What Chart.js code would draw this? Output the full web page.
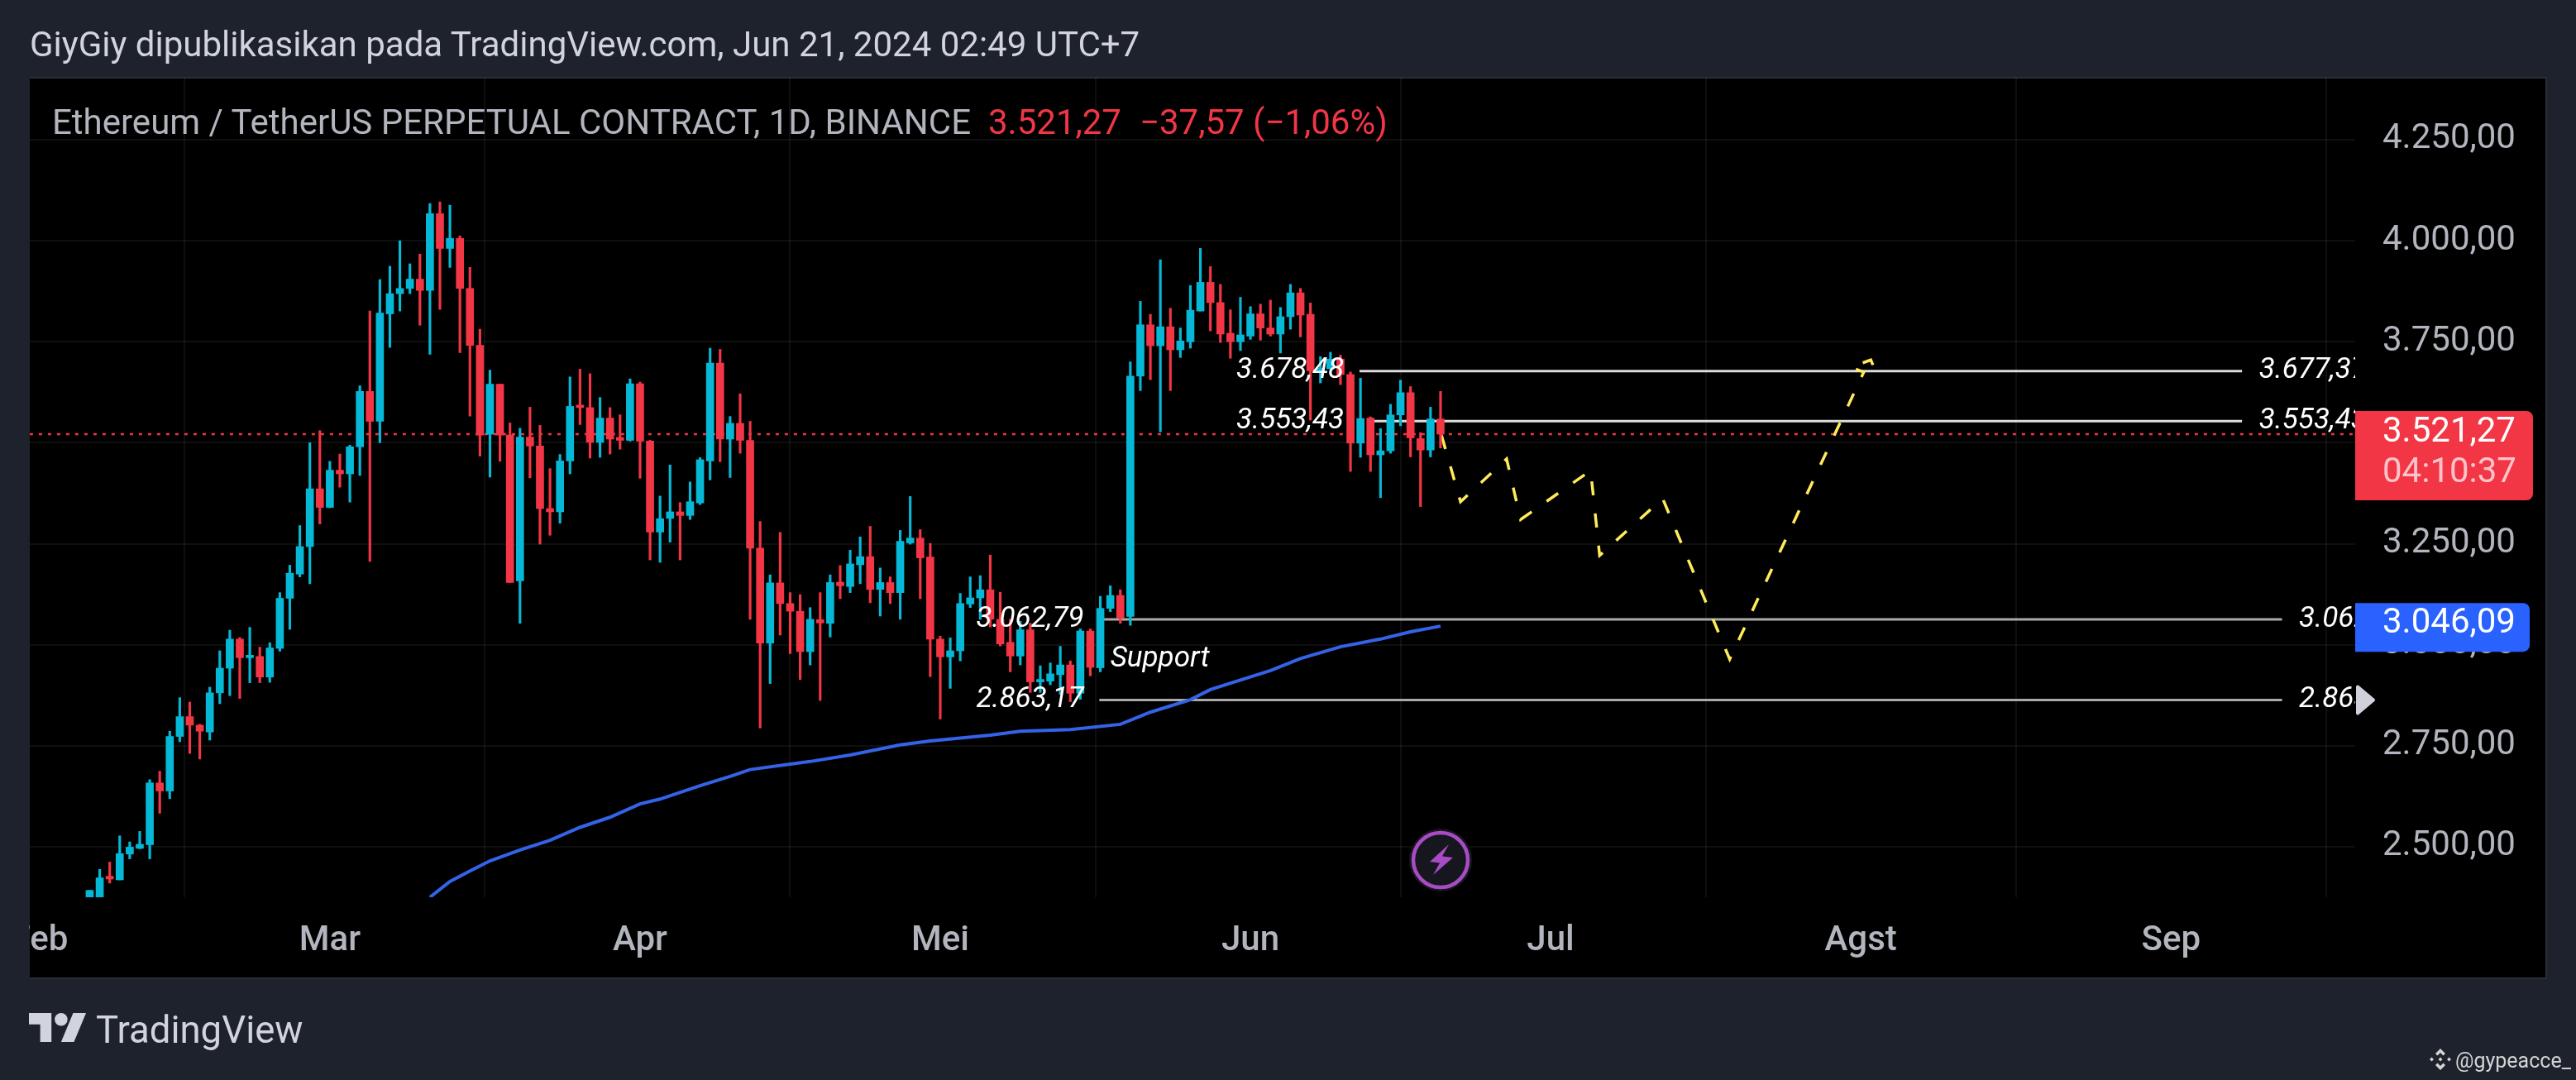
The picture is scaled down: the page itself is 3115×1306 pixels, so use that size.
<!DOCTYPE html>
<html>
<head>
<meta charset="utf-8">
<title>ETHUSDT.P 1D</title>
<script src="https://cdn.jsdelivr.net/npm/chart.js@4/dist/chart.umd.min.js"></script>
<style>
    html, body { margin: 0; padding: 0; background: #1e222d; }
    body { position: relative; width: 3115px; height: 1306px; overflow: hidden; font-family: Roboto, sans-serif; }
    canvas { position: absolute; left: 0; top: 0; }
    .txt { position: absolute; white-space: pre; line-height: 1; }
    svg { position: absolute; }
</style>
</head>
<body>
<canvas id="ethChart" width="3115" height="1306"></canvas>

<div class="txt" style="left:36px;top:33px;font-size:42px;color:#d1d4dc">GiyGiy dipublikasikan pada TradingView.com, Jun 21, 2024 02:49 UTC+7</div>
<div class="txt" style="left:63px;top:127px;font-size:42px;color:#b2b5be">Ethereum / TetherUS PERPETUAL CONTRACT, 1D, BINANCE</div>
<div class="txt" style="left:1195px;top:127px;font-size:42px;color:#f23645">3.521,27</div>
<div class="txt" style="left:1378px;top:127px;font-size:42px;color:#f23645">−37,57</div>
<div class="txt" style="left:1515px;top:127px;font-size:42px;color:#f23645">(−1,06%)</div>

<svg style="left:35px;top:1217px" width="70" height="55" viewBox="0 0 36 28" fill="#d1d4dc">
    <path d="M14 22H7V11H0V4h14v18zM28 22h-8l7.5-18h8L28 22z"/><circle cx="20" cy="8" r="4"/>
</svg>
<div class="txt" style="left:116px;top:1223px;font-size:45.500px;color:#d1d4dc">TradingView</div>

<svg style="left:2937px;top:1268px" width="28" height="28" viewBox="0 0 28 28" fill="#d4d4d4">
    <path d="M14 0l6 6-2.500 2.500L14 5 10.500 8.500 8 6zM3.500 10.500L6 13l-2.500 2.500L1 13zM24.500 10.500L27 13l-2.500 2.500L22 13zM14 10.500l2.500 2.500-2.500 2.500-2.500-2.500zM8 20l2.500-2.500L14 21l3.500-3.500L20 20l-6 6z"/>
</svg>
<div class="txt" style="left:2969px;top:1270px;font-size:25px;color:#d4d4d4">@gypeacce_</div>

<svg style="left:1702px;top:1000px" width="80" height="80" viewBox="0 0 80 80">
    <circle cx="40" cy="40" r="38" fill="#16161f"/>
    <circle cx="40" cy="40" r="33" fill="none" stroke="#a94bc4" stroke-width="4.500"/>
    <path d="M50 21L27 42l12 1.500L31 58l24-21-13-1.500z" fill="#a94bc4"/>
</svg>

<script>
    // daily candles, first one is day 5 (day 0 = 1 Feb 2024)
    const firstDay = 5;
    const opens = [2360,2360,2427,2418,2482,2496,2505,2658,2638,2773,2822,2801,2784,2881,2942,3014,2968,2971,2920,2991,
        3115,3175,3243,3386,3340,3432,3423,3490,3627,3553,3819,3869,3882,3905,3877,4067,3981,4006,3882,3741,
        3521,3645,3519,3158,3514,3492,3337,3329,3455,3592,3587,3501,3561,3513,3506,3646,3504,3279,3313,3329,
        3320,3351,3455,3697,3509,3548,3506,3239,3004,3153,3102,3083,2983,3062,3053,3155,3144,3198,3218,3137,
        3154,3129,3252,3264,3217,3014,2970,2985,3101,3116,3136,3063,3006,2972,3037,2908,2910,2926,2950,2880,
        3034,2943,3090,3122,3070,3665,3792,3740,3787,3730,3750,3826,3897,3847,3771,3750,3764,3819,3784,3769,
        3812,3871,3818,3678,3683,3707,3669,3499,3561,3470,3480,3569,3624,3510,3482,3558.84];
    const highs = [2392,2444,2462,2527,2512,2538,2666,2687,2786,2869,2858,2803,2895,2985,3036,3018,3043,2994,3005,3129,
        3197,3295,3500,3530,3454,3472,3494,3641,3826,3904,3937,4000,3943,3967,4092,4096,4088,4012,3934,3781,
        3680,3645,3549,3536,3588,3543,3436,3471,3663,3682,3671,3612,3587,3569,3658,3650,3506,3368,3445,3352,
        3403,3463,3734,3731,3565,3621,3553,3305,3173,3278,3129,3124,3092,3129,3173,3196,3234,3267,3293,3190,
        3168,3283,3367,3285,3251,3021,3017,3127,3168,3171,3222,3130,3063,3058,3053,2948,2955,2996,2960,3039,
        3039,3120,3146,3136,3700,3850,3818,3953,3833,3784,3889,3981,3936,3892,3829,3860,3837,3843,3853,3835,
        3892,3882,3846,3713,3724,3717,3675,3660,3564,3535,3595,3655,3639,3525,3588,3627];
    const lows = [2350,2350,2410,2418,2470,2495,2470,2583,2619,2760,2731,2717,2764,2854,2874,2867,2906,2906,2907,2984,
        3038,3168,3151,3299,3339,3390,3353,3419,3206,3500,3736,3826,3869,3791,3719,3830,3934,3723,3566,3467,
        3415,3454,3154,3053,3413,3249,3271,3301,3423,3545,3462,3464,3472,3484,3504,3412,3210,3204,3254,3210,
        3310,3347,3408,3453,3414,3474,3063,2794,2904,3024,2978,2914,2950,2862,3019,3114,3129,3151,3104,3071,
        3102,3063,3249,3114,2921,2816,2892,2960,3092,3063,3044,2997,2933,2950,2882,2882,2901,2877,2859,2865,
        2923,2933,3082,3053,3048,3629,3656,3527,3629,3711,3734,3826,3777,3748,3709,3728,3756,3754,3764,3722,
        3781,3762,3556,3648,3682,3644,3429,3464,3429,3364,3474,3542,3465,3342,3465,3487];
    const closes = [2392,2423,2420,2483,2499,2506,2658,2638,2773,2822,2801,2786,2881,2942,3014,2968,2972,2920,2992,3115,
        3177,3243,3386,3340,3432,3423,3490,3627,3553,3821,3869,3882,3905,3877,4067,3981,4006,3882,3741,3519,
        3645,3519,3154,3514,3492,3337,3329,3455,3590,3587,3501,3561,3509,3506,3646,3504,3279,3312,3329,3320,
        3354,3458,3697,3509,3548,3506,3239,3004,3153,3102,3083,2983,3063,3054,3154,3146,3200,3218,3137,3154,
        3129,3256,3264,3215,3014,2970,2985,3102,3116,3136,3063,3002,2972,3037,2908,2913,2928,2950,2880,3034,
        2944,3090,3122,3066,3665,3792,3740,3787,3730,3752,3828,3897,3847,3769,3750,3767,3819,3784,3769,3812,
        3871,3816,3678,3683,3707,3669,3499,3560,3470,3480,3569,3624,3512,3482,3559,3521.27];

    // moving average
    const maDays = [39,41,43,45,48,51,54,57,60,62,66,69,71,77,81,86,89,95,98,103,108,111,115,117,123,126,130,134,137,140];
    const maValues = [2375,2414,2440,2465,2492,2516,2548,2573,2606,2618,2651,2674,2691,2711,2727,2752,2762,2776,2786,2790,
        2803,2833,2864,2889,2936,2966,2995,3014,3032,3046.09];

    // yellow dashed forecast
    const forecastDays = [140.1,142,146.6,148,155,155.9,162.2,168.9,182.3,181,183,183.8];
    const forecastValues = [3518,3354,3460,3310,3431,3221,3362,2964,3675,3687,3705,3658];

    // drawn levels
    const levelValues = [3677.37,3553.43,3062.79,2863.17];
    const levelStartDays = [131.9,133.2,106.3,105.9];
    const levelEndDays = [220.1,220.1,224.1,224.1];
    const levelTexts = ['3.677,37','3.553,43','3.062,79','2.863,17'];

    const lastPrice = 3521.27;
    const maLast = 3046.09;
    const yTicks = [2500,2750,3000,3250,3500,3750,4000,4250];
    const yTickLabels = ['2.500,00','2.750,00','3.000,00','3.250,00','3.500,00','3.750,00','4.000,00','4.250,00'];
    const monthDays = [0,29,60,90,121,151,182,213];
    const monthNames = ['Feb','Mar','Apr','Mei','Jun','Jul','Agst','Sep'];

    const UP = '#06b8d6';
    const DOWN = '#f23645';
    const candleDays = opens.map((v, i) => firstDay + i);
    const candleColors = opens.map((v, i) => closes[i] >= v ? UP : DOWN);

    // left/right pieces of text that sit on the pane, in price/time coordinates
    const noteTexts = [
        { text: '3.678,48', day: 119.6, value: 3677.37 },
        { text: '3.553,43', day: 119.6, value: 3553.43 },
        { text: '3.062,79', day: 93.6, value: 3062.79 },
        { text: '2.863,17', day: 93.6, value: 2863.17 },
        { text: 'Support', day: 107, value: 2965 },
        { text: levelTexts[0], day: 221.8, value: 3677.37 },
        { text: levelTexts[1], day: 221.8, value: 3553.43 },
        { text: levelTexts[2], day: 225.8, value: 3062.79 },
        { text: levelTexts[3], day: 225.8, value: 2863.17 }
    ];

    const panePlugin = {
        id: 'pane',
        beforeDraw(chart) {
            const c = chart.ctx;
            c.save();
            c.fillStyle = '#000';
            c.fillRect(36, 94, 3043, 1089);
            c.strokeStyle = '#2a2e39';
            c.lineWidth = 2;
            c.beginPath();
            c.moveTo(36, 94); c.lineTo(3079, 94); c.lineTo(3079, 1183); c.lineTo(36, 1183);
            c.stroke();
            c.restore();
        },
        afterDatasetsDraw(chart) {
            const c = chart.ctx, a = chart.chartArea;
            const x = chart.scales.x, y = chart.scales.y;
            c.save();
            c.beginPath();
            c.rect(a.left, a.top, a.right - a.left, a.bottom - a.top);
            c.clip();
            c.font = 'italic 35px Roboto';
            c.fillStyle = '#fff';
            c.textBaseline = 'middle';
            c.textAlign = 'left';
            noteTexts.forEach(n => c.fillText(n.text, x.getPixelForValue(n.day), y.getPixelForValue(n.value)));
            c.restore();
        },
        afterDraw(chart) {
            const c = chart.ctx, a = chart.chartArea;
            const y = chart.scales.y;
            c.save();
            // cut the Feb label at the pane edge
            c.fillStyle = '#1e222d';
            c.fillRect(0, a.bottom + 2, 35, 96);

            const py = y.getPixelForValue(lastPrice);
            const my = y.getPixelForValue(maLast);
            c.fillStyle = DOWN;
            c.beginPath();
            c.roundRect(a.right, py - 28, 215, 108, [0, 8, 8, 0]);
            c.fill();
            c.fillStyle = '#2962ff';
            c.beginPath();
            c.roundRect(a.right, my - 28, 211, 59, [0, 8, 8, 0]);
            c.fill();

            c.font = '42px Roboto';
            c.textAlign = 'left';
            c.textBaseline = 'middle';
            c.fillStyle = '#fff';
            c.fillText('3.521,27', 2881, py - 2);
            c.fillText('3.046,09', 2881, my - 3);
            c.fillStyle = '#ffc4c9';
            c.fillText('04:10:37', 2881, py + 47);

            // small arrow on the axis
            const ay = y.getPixelForValue(levelValues[3]);
            c.fillStyle = '#d1d1db';
            c.strokeStyle = '#d1d1db';
            c.lineWidth = 4;
            c.lineJoin = 'round';
            c.beginPath();
            c.moveTo(a.right + 3, ay - 16);
            c.lineTo(a.right + 22, ay);
            c.lineTo(a.right + 3, ay + 16);
            c.closePath();
            c.fill();
            c.stroke();
            c.restore();
        }
    };

    function lineSet(days, values, color, width, order, dash) {
        return {
            type: 'line',
            data: days.map((d, i) => ({ x: d, y: values[i] })),
            borderColor: color,
            borderWidth: width,
            borderDash: dash || [],
            pointRadius: 0,
            tension: 0,
            order: order
        };
    }

    const datasets = [
        {
            type: 'bar',
            data: candleDays.map((d, i) => ({ x: d, y: [opens[i], closes[i]] })),
            backgroundColor: candleColors,
            barThickness: 9,
            minBarLength: 3,
            order: 0
        },
        {
            type: 'bar',
            data: candleDays.map((d, i) => ({ x: d, y: [lows[i], highs[i]] })),
            backgroundColor: candleColors,
            barThickness: 2.5,
            order: 1
        },
        lineSet(maDays, maValues, '#3463e8', 4, 2),
        lineSet(forecastDays, forecastValues, '#ffeb5a', 3.5, 3, [17, 22]),
        lineSet([-1, 232], [lastPrice, lastPrice], DOWN, 2.5, 5, [4, 7])
    ];
    levelValues.forEach((v, i) => {
        const color = i < 2 ? '#dcdcdc' : '#a9a9a9';
        datasets.push(lineSet([levelStartDays[i], levelEndDays[i]], [v, v], color, 3, 4));
    });

    new Chart(document.getElementById('ethChart').getContext('2d'), {
        type: 'bar',
        data: { datasets: datasets },
        plugins: [panePlugin],
        options: {
            responsive: false,
            animation: false,
            devicePixelRatio: 1,
            events: [],
            layout: { padding: { left: 36, top: 94, right: 36, bottom: 123 } },
            datasets: { bar: { grouped: false } },
            plugins: { legend: { display: false }, tooltip: { enabled: false } },
            scales: {
                x: {
                    type: 'linear',
                    offset: false,
                    min: -0.99,
                    max: 231.41,
                    border: { display: false },
                    grid: { color: 'rgba(255,255,255,0.06)', lineWidth: 2, drawTicks: false },
                    ticks: {
                        color: '#b2b5be',
                        font: { family: 'Roboto', size: 42, weight: '500' },
                        padding: 28,
                        autoSkip: false,
                        maxRotation: 0,
                        callback: v => monthNames[monthDays.indexOf(v)]
                    },
                    afterBuildTicks(s) { s.ticks = monthDays.map(v => ({ value: v })); },
                    afterFit(s) { s.height = 98; s.paddingLeft = 0; s.paddingRight = 0; }
                },
                y: {
                    position: 'right',
                    min: 2375,
                    max: 4403.5,
                    border: { display: false },
                    grid: { color: 'rgba(255,255,255,0.06)', lineWidth: 2, drawTicks: false },
                    ticks: {
                        color: '#b2b5be',
                        font: { family: 'Roboto', size: 42 },
                        padding: 33,
                        callback: v => yTickLabels[yTicks.indexOf(v)]
                    },
                    afterBuildTicks(s) { s.ticks = yTicks.map(v => ({ value: v })); },
                    afterFit(s) { s.width = 231; s.paddingTop = 0; s.paddingBottom = 0; }
                }
            }
        }
    });
</script>
</body>
</html>
